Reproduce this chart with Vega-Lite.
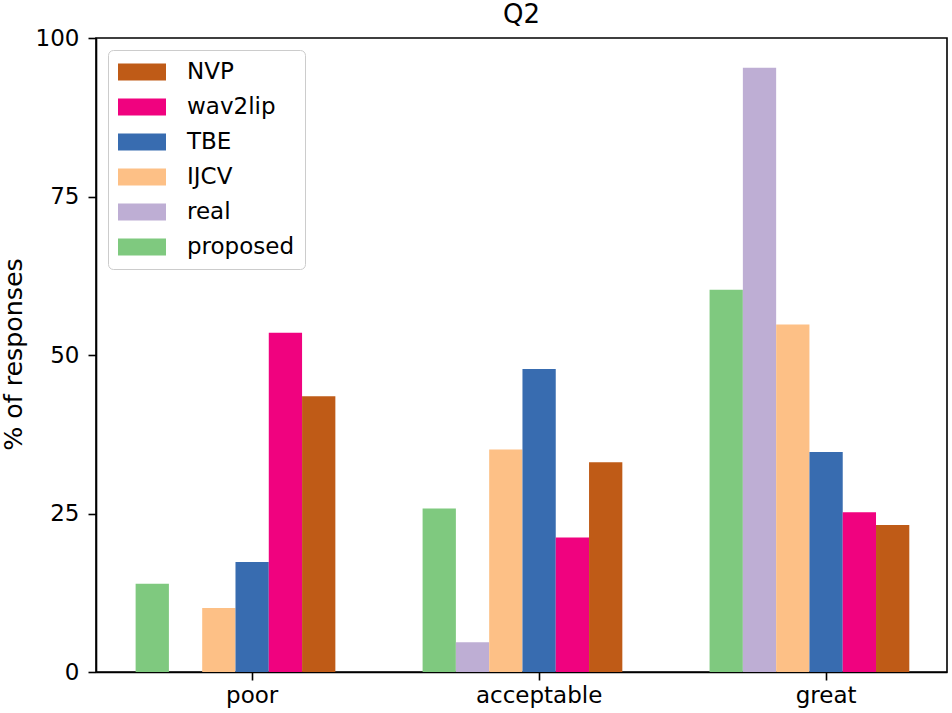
{
  "$schema": "https://vega.github.io/schema/vega-lite/v6.json",
  "width": 851,
  "height": 634,
  "autosize": {"type": "none"},
  "padding": {"left": 96, "top": 38, "right": 5, "bottom": 41},
  "background": "white",
  "title": {"text": "Q2", "fontSize": 26, "fontWeight": "normal", "font": "DejaVu Sans", "color": "black", "offset": 14, "dy": 15, "frame": "group"},
  "data": {
    "values": [
      {"rating": "poor", "method": "proposed", "pct": 13.9},
      {"rating": "poor", "method": "real", "pct": 0},
      {"rating": "poor", "method": "IJCV", "pct": 10.1},
      {"rating": "poor", "method": "TBE", "pct": 17.35},
      {"rating": "poor", "method": "wav2lip", "pct": 53.5},
      {"rating": "poor", "method": "NVP", "pct": 43.5},
      {"rating": "acceptable", "method": "proposed", "pct": 25.8},
      {"rating": "acceptable", "method": "real", "pct": 4.7},
      {"rating": "acceptable", "method": "IJCV", "pct": 35.1},
      {"rating": "acceptable", "method": "TBE", "pct": 47.8},
      {"rating": "acceptable", "method": "wav2lip", "pct": 21.2},
      {"rating": "acceptable", "method": "NVP", "pct": 33.1},
      {"rating": "great", "method": "proposed", "pct": 60.3},
      {"rating": "great", "method": "real", "pct": 95.3},
      {"rating": "great", "method": "IJCV", "pct": 54.8},
      {"rating": "great", "method": "TBE", "pct": 34.7},
      {"rating": "great", "method": "wav2lip", "pct": 25.2},
      {"rating": "great", "method": "NVP", "pct": 23.2}
    ]
  },
  "mark": {"type": "bar"},
  "encoding": {
    "x": {
      "field": "rating",
      "type": "nominal",
      "sort": ["poor", "acceptable", "great"],
      "scale": {"paddingInner": 0.188, "paddingOuter": 0.0767, "align": 0.9},
      "axis": {"title": null, "labelAngle": 0, "labelFontSize": 23, "labelPadding": 4, "tickSize": 8}
    },
    "xOffset": {
      "field": "method",
      "type": "nominal",
      "scale": {"domain": ["proposed", "real", "IJCV", "TBE", "wav2lip", "NVP", "_"], "paddingInner": 0, "paddingOuter": 0}
    },
    "y": {
      "field": "pct",
      "type": "quantitative",
      "scale": {"domain": [0, 100], "nice": false},
      "axis": {"title": "% of responses", "values": [0, 25, 50, 75, 100], "grid": false, "labelFontSize": 23, "labelPadding": 9, "tickSize": 8, "titleFontSize": 25.3, "titleFontWeight": "normal", "titleX": -75, "titleY": 316, "titleBaseline": "alphabetic", "titleAlign": "center"}
    },
    "color": {
      "field": "method",
      "type": "nominal",
      "scale": {
        "domain": ["NVP", "wav2lip", "TBE", "IJCV", "real", "proposed"],
        "range": ["#bf5b17", "#f0027f", "#386cb0", "#fdc086", "#beaed4", "#7fc97f"]
      },
      "legend": {
        "title": null,
        "orient": "top-left",
        "offset": 12,
        "padding": 10,
        "symbolType": "M-1,-0.7L3,-0.7L3,0.7L-1,0.7Z",
        "symbolSize": 576,
        "symbolStrokeWidth": 0,
        "symbolOpacity": 1,
        "labelFontSize": 23,
        "labelOffset": 45,
        "rowPadding": 11,
        "fillColor": "rgba(255,255,255,0.8)",
        "strokeColor": "#cccccc",
        "cornerRadius": 5
      }
    }
  },
  "config": {
    "font": "DejaVu Sans",
    "view": {"stroke": "black", "strokeWidth": 1.6},
    "axis": {"domainColor": "black", "domainWidth": 1.6, "tickColor": "black", "tickWidth": 1.6, "labelColor": "black", "titleColor": "black", "labelFont": "DejaVu Sans", "titleFont": "DejaVu Sans"},
    "legend": {"labelFont": "DejaVu Sans", "labelColor": "black"}
  }
}
